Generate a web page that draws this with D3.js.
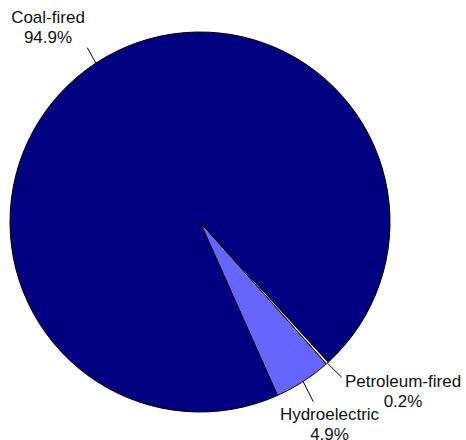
<!DOCTYPE html>
<html>
<head>
<meta charset="utf-8">
<script src="https://cdn.jsdelivr.net/npm/d3@7"></script>
<style>
  html, body { margin: 0; padding: 0; background: #fff; }
  svg { display: block; }
  text { font-family: "Liberation Sans", Arial, sans-serif; font-size: 17px; fill: #111; }
</style>
</head>
<body>
<svg id="chart" width="466" height="440"></svg>
<script>
// Data
const categories = ["Hydroelectric", "Coal-fired", "Petroleum-fired"];
const values = [4.9, 94.9, 0.2];
const valueLabels = ["4.9%", "94.9%", "0.2%"];
const colors = ["#6666FF", "#000080", "#FFFFCC"];

const width = 466, height = 440;
const cx = 200, cy = 222, radius = 190;
const startDeg = 138.3;

const svg = d3.select("#chart");
const g = svg.append("g").attr("transform", `translate(${cx},${cy})`);

const total = d3.sum(values);
const pie = d3.pie()
  .sort(null)
  .value(d => d)
  .startAngle(startDeg * Math.PI / 180)
  .endAngle(startDeg * Math.PI / 180 + 2 * Math.PI);

const arcs = pie(values);
const arc = d3.arc().innerRadius(0).outerRadius(radius);

g.selectAll("path.slice")
  .data(arcs)
  .join("path")
  .attr("class", "slice")
  .attr("d", arc)
  .attr("fill", (d, i) => colors[i])
  .attr("stroke", "#000")
  .attr("stroke-width", 1)
  .attr("stroke-linejoin", "round");

// Label placement (relative offsets for leader line ends and label anchors)
const labelSpec = {
  "Hydroelectric":   { leadAngle: 147.5, leadEnd: [313.3, 401.7], text: [329.5, 420] },
  "Coal-fired":      { leadAngle: 328.0, leadEnd: [87.3, 47.7],  text: [48, 23.3] },
  "Petroleum-fired": { leadAngle: 138.0, leadEnd: [341.7, 377.3], text: [403, 387.3] }
};

arcs.forEach((a, i) => {
  const name = categories[i];
  const spec = labelSpec[name];
  const mid = (a.startAngle + a.endAngle) / 2;
  const px = Math.sin(mid) * radius;
  const py = -Math.cos(mid) * radius;
  svg.append("line")
    .attr("x1", cx + px).attr("y1", cy + py)
    .attr("x2", spec.leadEnd[0]).attr("y2", spec.leadEnd[1])
    .attr("stroke", "#000").attr("stroke-width", 1);
  const t = svg.append("text")
    .attr("text-anchor", "middle")
    .attr("x", spec.text[0]).attr("y", spec.text[1]);
  t.append("tspan").attr("x", spec.text[0]).text(name);
  t.append("tspan").attr("x", spec.text[0]).attr("dy", 20).text(valueLabels[i]);
});
</script>
</body>
</html>
